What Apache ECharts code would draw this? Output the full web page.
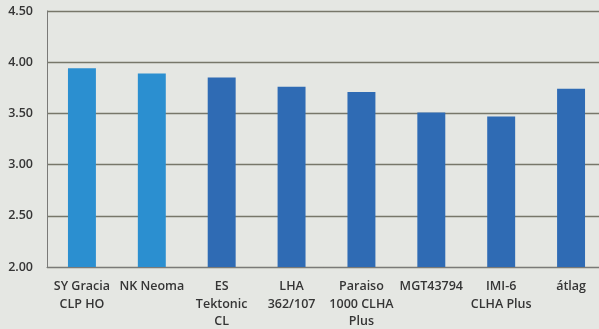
<!DOCTYPE html>
<html><head><meta charset="utf-8">
<script src="https://cdn.jsdelivr.net/npm/echarts@6/dist/echarts.min.js"></script>
<style>html,body{margin:0;padding:0;background:#e5e7e3;}#c{width:599px;height:329px;}</style>
</head><body><div id="c"></div>
<script>
const categories = ["SY Gracia\nCLP HO", "NK Neoma", "ES\nTektonic\nCL", "LHA\n362/107", "Paraiso\n1000 CLHA\nPlus", "MGT43794", "IMI-6\nCLHA Plus", "átlag"];
const values = [3.94, 3.89, 3.85, 3.76, 3.71, 3.51, 3.47, 3.74];
const barColors = ["#2b8fd0", "#2b8fd0", "#2f6bb4", "#2f6bb4", "#2f6bb4", "#2f6bb4", "#2f6bb4", "#2f6bb4"];
const yTicks = [2.0, 2.5, 3.0, 3.5, 4.0, 4.5];

const chart = echarts.init(document.getElementById('c'));
chart.setOption({
  backgroundColor: '#e5e7e3',
  animation: false,
  grid: { left: 47, right: -7, top: 11, bottom: 62, containLabel: false, outerBoundsMode: 'none' },
  xAxis: {
    type: 'category',
    data: categories,
    axisLine: { lineStyle: { color: '#7a7a78', width: 1 } },
    axisTick: { show: false },
    axisLabel: { color: '#353535', fontFamily: 'Open Sans', fontSize: 12.5, fontWeight: 600, lineHeight: 17.5, margin: 11, interval: 0 }
  },
  yAxis: {
    type: 'value',
    min: yTicks[0], max: yTicks[yTicks.length - 1], interval: 0.5,
    axisLine: { show: true, lineStyle: { color: '#7a7a78' } },
    axisTick: { show: false },
    axisLabel: { color: '#353535', fontFamily: 'Open Sans', fontSize: 12.5, fontWeight: 600, margin: 14, formatter: v => v.toFixed(2) },
    splitLine: { lineStyle: { color: '#77776a', width: 1.3 } }
  },
  series: [{
    type: 'bar',
    data: values.map((v, i) => ({ value: v, itemStyle: { color: barColors[i] } })),
    barWidth: '40%'
  }]
});
</script></body></html>
